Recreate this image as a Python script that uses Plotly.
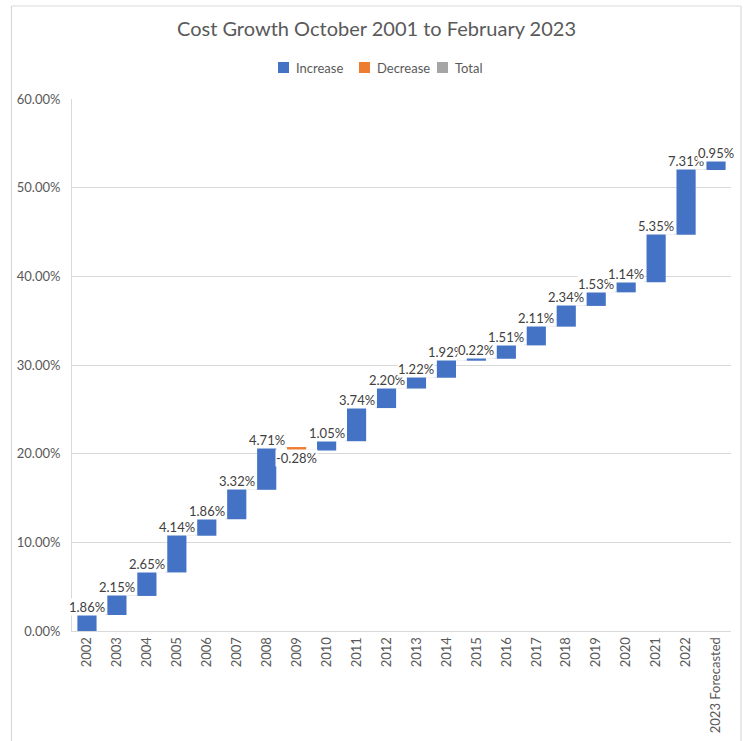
import plotly.graph_objects as go

# Yearly cost growth (percentage points) feeding the waterfall
years = ["2002", "2003", "2004", "2005", "2006", "2007", "2008", "2009", "2010",
         "2011", "2012", "2013", "2014", "2015", "2016", "2017", "2018", "2019",
         "2020", "2021", "2022", "2023 Forecasted"]
growth = [1.86, 2.15, 2.65, 4.14, 1.86, 3.32, 4.71, -0.28, 1.05, 3.74, 2.20,
          1.22, 1.92, 0.22, 1.51, 2.11, 2.34, 1.53, 1.14, 5.35, 7.31, 0.95]
y_ticks = [0, 10, 20, 30, 40, 50, 60]
legend_items = ["Increase", "Decrease", "Total"]

C_INC = "#4472C4"
C_DEC = "#ED7D31"
C_TOT = "#A5A5A5"
FONT = "Lato"

W, H = 747, 741
ML, MR, MT, MB = 72, 16, 99, 110
pw = W - ML - MR
ph = H - MT - MB


def px_x(p):
    return (p - ML) / pw


def px_y(p):
    return (H - MB - p) / ph


fig = go.Figure()

fig.add_trace(go.Waterfall(
    x=years,
    y=growth,
    measure=["relative"] * len(growth),
    textposition="none",
    increasing=dict(marker=dict(color=C_INC)),
    decreasing=dict(marker=dict(color=C_DEC)),
    totals=dict(marker=dict(color=C_TOT)),
    connector=dict(line=dict(color="#d9d9d9", width=1)),
    width=[0.64] * len(growth),
    showlegend=False,
    hoverinfo="x+y",
))

# Value labels at the outer end of each step (x given as category index)
running = 0.0
for i, v in enumerate(growth):
    start = running
    running += v
    up = v >= 0
    fig.add_annotation(
        x=i, y=max(start, running) if up else min(start, running),
        xref="x", yref="y",
        text=f"{v:.2f}%", showarrow=False,
        yanchor="bottom" if up else "top",
        yshift=-1 if up else 1,
        bgcolor="white", borderpad=0,
        font=dict(family=FONT, size=13, color="#404040"),
    )

# Category key above the plot
key_x = [278, 359, 437]
for name, col, x0 in zip(legend_items, [C_INC, C_DEC, C_TOT], key_x):
    fig.add_shape(type="rect", xref="paper", yref="paper",
                  x0=px_x(x0), x1=px_x(x0 + 11), y0=px_y(73), y1=px_y(62),
                  fillcolor=col, line=dict(width=0))
    fig.add_annotation(x=px_x(x0 + 16), y=px_y(67.5), xref="paper", yref="paper",
                       text=name, showarrow=False, xanchor="left",
                       yanchor="middle",
                       font=dict(family=FONT, size=13, color="#595959"))

# Chart frame lines
frame = dict(type="line", xref="paper", yref="paper",
             line=dict(color="#d9d9d9", width=1.2))
fig.add_shape(**frame, x0=px_x(11.5), x1=px_x(11.5), y0=px_y(6), y1=px_y(760))
fig.add_shape(**frame, x0=px_x(741), x1=px_x(741), y0=px_y(6), y1=px_y(760))
fig.add_shape(**frame, x0=px_x(11.5), x1=px_x(741), y0=px_y(6), y1=px_y(6))

fig.update_layout(
    width=W, height=H,
    margin=dict(l=ML, r=MR, t=MT, b=MB, autoexpand=False),
    paper_bgcolor="white", plot_bgcolor="white",
    font=dict(family=FONT, color="#595959"),
    title=dict(text="Cost Growth October 2001 to February 2023",
               x=376.5 / W, xref="container", xanchor="center",
               y=1 - 29 / H, yref="container", yanchor="middle",
               font=dict(family=FONT, size=20, color="#595959")),
    showlegend=False,
)

fig.update_xaxes(
    type="category",
    range=[-0.5, len(years) - 0.5],
    automargin=False,
    tickangle=-90,
    tickfont=dict(family=FONT, size=13, color="#595959"),
    showline=True, linecolor="#d9d9d9", linewidth=1,
    showgrid=False, ticks="",
)
fig.update_yaxes(
    range=[0, 60],
    automargin=False,
    tickvals=y_ticks,
    ticktext=[f"{v:.2f}%" for v in y_ticks],
    tickfont=dict(family=FONT, size=13, color="#595959"),
    showgrid=True, gridcolor="#d9d9d9", gridwidth=1,
    showline=True, linecolor="#d9d9d9", linewidth=1,
    zeroline=False, ticks="", ticklabelstandoff=8,
)

fig.write_html("out.html")
